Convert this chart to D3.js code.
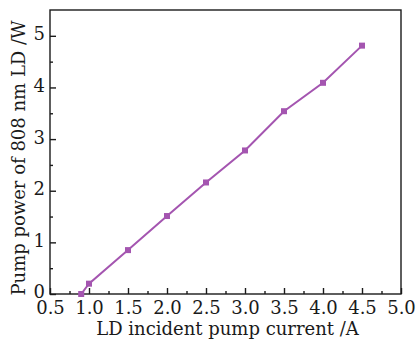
<!DOCTYPE html>
<html><head><meta charset="utf-8">
<script src="https://cdn.jsdelivr.net/npm/d3@7"></script>
<style>body{margin:0;background:#fff}svg{display:block}</style>
</head><body>
<script>
const currents = [0.9, 1.0, 1.5, 2.0, 2.5, 3.0, 3.5, 4.0, 4.5];
const powers = [0.0, 0.2, 0.85, 1.51, 2.16, 2.78, 3.54, 4.09, 4.81];
const xTicks = [0.5, 1.0, 1.5, 2.0, 2.5, 3.0, 3.5, 4.0, 4.5, 5.0];
const yTicks = [0, 1, 2, 3, 4, 5];
const xLabel = "LD incident pump current /A";
const yLabel = "Pump power of 808 nm LD /W";

const W = 418, H = 342;
const m = {l: 50, r: 17, t: 10, b: 48};
const svg = d3.select("body").append("svg").attr("width", W).attr("height", H);
const x = d3.scaleLinear().domain([0.5, 5.0]).range([m.l, W - m.r]);
const y = d3.scaleLinear().domain([0, 5.5]).range([H - m.b, m.t]);
const font = "'DejaVu Serif', serif";
const col = "#a455b0";
const ink = "#1a1a1a";
const fs = 18;

// frame
svg.append("rect").attr("x", m.l).attr("y", m.t).attr("width", W - m.r - m.l).attr("height", H - m.b - m.t)
  .attr("fill", "none").attr("stroke", ink).attr("stroke-width", 1.4);

// x axis
const xMinor = d3.range(0.75, 5.0, 0.5);
const xa = svg.append("g").attr("transform", `translate(0,${H - m.b})`)
  .call(d3.axisBottom(x).tickValues(xTicks).tickFormat(d3.format(".1f")).tickSizeInner(-6).tickSizeOuter(0));
xa.select(".domain").remove();
xa.selectAll("line").attr("stroke", ink).attr("stroke-width", 1.4);
xa.selectAll("text").attr("font-family", font).attr("font-size", fs).attr("fill", ink).attr("dy", "0.75em").attr("y", 6);
const xm = svg.append("g").attr("transform", `translate(0,${H - m.b})`)
  .call(d3.axisBottom(x).tickValues(xMinor).tickFormat("").tickSizeInner(-3).tickSizeOuter(0));
xm.select(".domain").remove();
xm.selectAll("line").attr("stroke", ink).attr("stroke-width", 1.4);

// y axis
const yMinor = d3.range(0.5, 5.5, 1);
const ya = svg.append("g").attr("transform", `translate(${m.l},0)`)
  .call(d3.axisLeft(y).tickValues(yTicks).tickFormat(d3.format("d")).tickSizeInner(-6).tickSizeOuter(0));
ya.select(".domain").remove();
ya.selectAll("line").attr("stroke", ink).attr("stroke-width", 1.4);
ya.selectAll("text").attr("font-family", font).attr("font-size", fs).attr("fill", ink).attr("x", -5).attr("dy", "0.22em");
const ym = svg.append("g").attr("transform", `translate(${m.l},0)`)
  .call(d3.axisLeft(y).tickValues(yMinor).tickFormat("").tickSizeInner(-3).tickSizeOuter(0));
ym.select(".domain").remove();
ym.selectAll("line").attr("stroke", ink).attr("stroke-width", 1.4);

// labels
svg.append("text").attr("x", (m.l + W - m.r) / 2 + 2).attr("y", 335).attr("text-anchor", "middle")
  .attr("font-family", font).attr("font-size", fs).attr("fill", ink).text(xLabel);
svg.append("text").attr("transform", `translate(25,${(m.t + H - m.b) / 2 + 6}) rotate(-90)`).attr("text-anchor", "middle")
  .attr("font-family", font).attr("font-size", fs).attr("fill", ink).text(yLabel);

// data
const pts = currents.map((c, i) => [c, powers[i]]);
svg.append("path").datum(pts).attr("fill", "none").attr("stroke", col).attr("stroke-width", 2)
  .attr("d", d3.line().x(d => x(d[0])).y(d => y(d[1])));
svg.selectAll("rect.pt").data(pts).enter().append("rect").attr("class", "pt")
  .attr("x", d => x(d[0]) - 3).attr("y", d => y(d[1]) - 3).attr("width", 6).attr("height", 6).attr("fill", col);
</script>
</body></html>
